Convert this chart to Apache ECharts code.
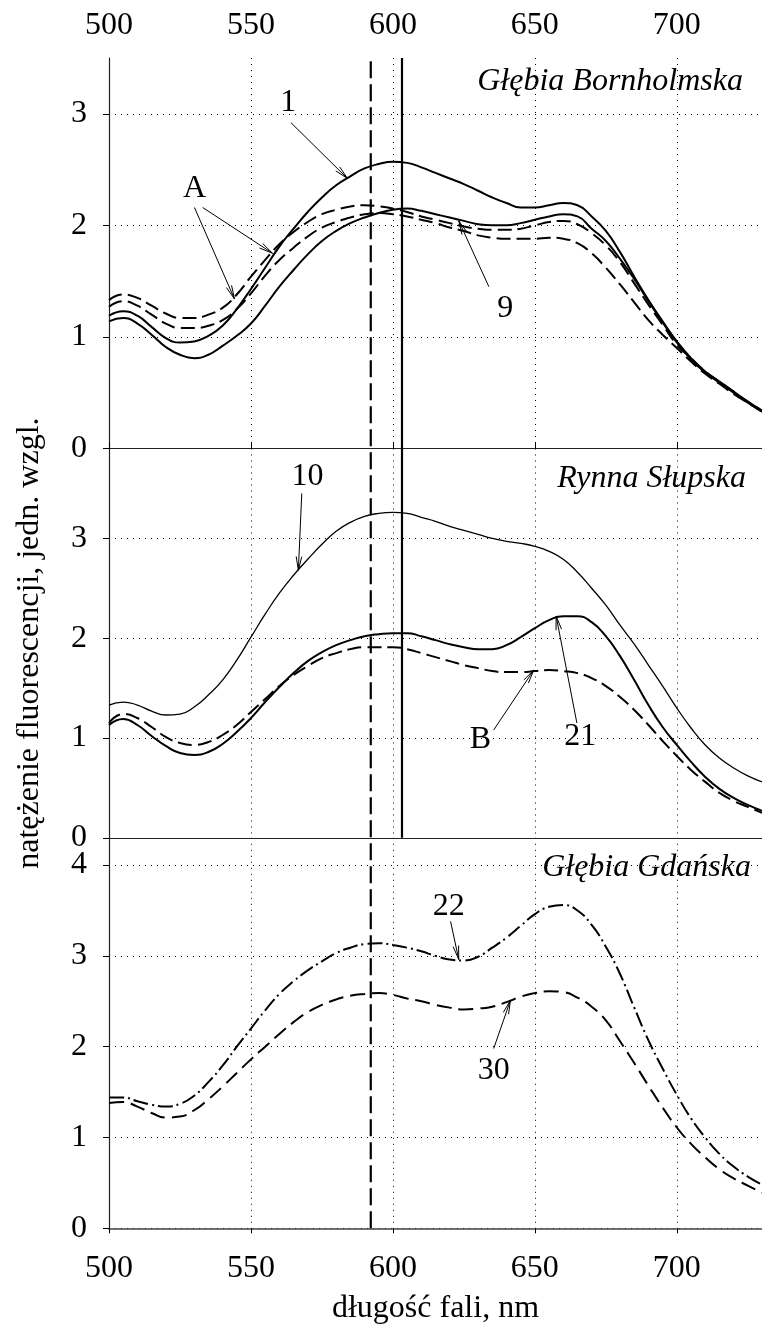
<!DOCTYPE html>
<html>
<head>
<meta charset="utf-8">
<script src="https://cdn.jsdelivr.net/npm/echarts@6/dist/echarts.min.js"></script>
<style>
  html, body { margin: 0; padding: 0; background: #fff; }
  #chart { width: 762px; height: 1331px; }
</style>
</head>
<body>
<div id="chart"></div>
<script>
// Fluorescence spectra at three Baltic stations, relative units vs wavelength (nm)
const wavelengths = [
  500, 505, 510, 515, 520, 525, 530, 535, 540, 545,
  550, 555, 560, 565, 570, 575, 580, 585, 590, 595,
  600, 605, 610, 615, 620, 625, 630, 635, 640, 645,
  650, 655, 660, 665, 670, 675, 680, 685, 690, 695,
  700, 705, 710, 715, 720, 725, 730
];

// Głębia Bornholmska
const bornholm1 = [
  1.19, 1.23, 1.19, 1.09, 0.99, 0.95, 0.96, 1.01, 1.10, 1.25,
  1.43, 1.62, 1.81, 1.97, 2.12, 2.25, 2.36, 2.44, 2.51, 2.55,
  2.57, 2.56, 2.52, 2.47, 2.42, 2.37, 2.31, 2.25, 2.20, 2.16,
  2.16, 2.18, 2.20, 2.18, 2.08, 1.95, 1.76, 1.54, 1.33, 1.14,
  0.96, 0.81, 0.69, 0.60, 0.51, 0.42, 0.34
];
const bornholm9 = [
  1.14, 1.17, 1.12, 1.02, 0.91, 0.84, 0.81, 0.84, 0.92, 1.01,
  1.12, 1.28, 1.45, 1.60, 1.74, 1.86, 1.95, 2.02, 2.07, 2.11,
  2.14, 2.15, 2.13, 2.10, 2.07, 2.04, 2.01, 2.00, 2.00, 2.02,
  2.05, 2.08, 2.10, 2.08, 1.97, 1.86, 1.70, 1.52, 1.32, 1.13,
  0.95, 0.80, 0.68, 0.59, 0.50, 0.41, 0.33
];
const bornholmA1 = [
  1.33, 1.38, 1.35, 1.28, 1.21, 1.17, 1.17, 1.20, 1.26, 1.38,
  1.54, 1.69, 1.83, 1.94, 2.03, 2.10, 2.14, 2.17, 2.18, 2.17,
  2.15, 2.12, 2.08, 2.05, 2.02, 1.99, 1.97, 1.96, 1.96, 1.97,
  2.00, 2.03, 2.04, 2.01, 1.93, 1.82, 1.67, 1.48, 1.29, 1.11,
  0.93, 0.81, 0.69, 0.60, 0.51, 0.42, 0.34
];
const bornholmA2 = [
  1.27, 1.32, 1.28, 1.20, 1.12, 1.08, 1.08, 1.10, 1.15, 1.25,
  1.39, 1.55, 1.69, 1.80, 1.90, 1.98, 2.03, 2.07, 2.10, 2.11,
  2.10, 2.08, 2.05, 2.02, 1.98, 1.95, 1.91, 1.89, 1.88, 1.88,
  1.88, 1.89, 1.88, 1.84, 1.75, 1.62, 1.47, 1.31, 1.15, 1.02,
  0.90, 0.78, 0.67, 0.58, 0.49, 0.41, 0.33
];

// Rynna Słupska
const slupsk10 = [
  1.33, 1.36, 1.33, 1.27, 1.23, 1.24, 1.31, 1.43, 1.58, 1.78,
  2.01, 2.24, 2.45, 2.63, 2.79, 2.94, 3.07, 3.16, 3.22, 3.25,
  3.26, 3.25, 3.21, 3.17, 3.12, 3.08, 3.04, 3.00, 2.97, 2.95,
  2.92, 2.87, 2.79, 2.66, 2.50, 2.33, 2.13, 1.94, 1.73, 1.52,
  1.30, 1.10, 0.93, 0.80, 0.70, 0.62, 0.56
];
const slupsk21 = [
  1.13, 1.19, 1.13, 1.02, 0.92, 0.85, 0.83, 0.86, 0.94, 1.06,
  1.20, 1.36, 1.51, 1.65, 1.77, 1.86, 1.93, 1.98, 2.02, 2.04,
  2.05, 2.05, 2.02, 1.98, 1.94, 1.91, 1.89, 1.89, 1.93, 2.01,
  2.10, 2.18, 2.22, 2.22, 2.16, 2.02, 1.82, 1.58, 1.33, 1.11,
  0.93, 0.76, 0.61, 0.49, 0.40, 0.33, 0.27
];
const slupskB = [
  1.15, 1.24, 1.20, 1.11, 1.01, 0.95, 0.93, 0.96, 1.03, 1.13,
  1.26, 1.39, 1.52, 1.63, 1.72, 1.80, 1.85, 1.89, 1.91, 1.91,
  1.91, 1.89, 1.85, 1.81, 1.77, 1.73, 1.70, 1.67, 1.66, 1.66,
  1.67, 1.68, 1.67, 1.65, 1.60, 1.52, 1.41, 1.28, 1.13, 0.97,
  0.82, 0.68, 0.56, 0.45, 0.37, 0.31, 0.25
];

// Głębia Gdańska
const gdansk22 = [
  1.44, 1.44, 1.40, 1.36, 1.34, 1.37, 1.46, 1.61, 1.79, 2.00,
  2.20, 2.40, 2.58, 2.72, 2.84, 2.94, 3.03, 3.09, 3.13, 3.14,
  3.12, 3.09, 3.05, 3.00, 2.96, 2.95, 2.99, 3.09, 3.20, 3.33,
  3.46, 3.54, 3.56, 3.50, 3.34, 3.10, 2.80, 2.43, 2.07, 1.76,
  1.47, 1.21, 1.00, 0.82, 0.68, 0.57, 0.48
];
const gdansk30 = [
  1.38, 1.39, 1.34, 1.27, 1.22, 1.23, 1.30, 1.42, 1.56, 1.71,
  1.86, 2.00, 2.14, 2.27, 2.38, 2.46, 2.52, 2.56, 2.58, 2.59,
  2.57, 2.53, 2.50, 2.46, 2.43, 2.41, 2.42, 2.44, 2.49, 2.55,
  2.59, 2.61, 2.60, 2.54, 2.44, 2.29, 2.06, 1.82, 1.57, 1.33,
  1.11, 0.93, 0.78, 0.65, 0.55, 0.47, 0.39
];

// Axis ranges and ticks
const xMin = 500, xMax = 730, xStep = 50;
const xTickValues = [500, 550, 600, 650, 700];
const panelMax = [3.5, 3.9, 4.3];
const yTickValues = [[0, 1, 2, 3], [0, 1, 2, 3], [0, 1, 2, 3, 4]];

// Vertical reference wavelengths (nm)
const dashedRefNm = 592.2;
const solidRefNm = 603.1;

// Panel titles
const panelTitles = ['Głębia Bornholmska', 'Rynna Słupska', 'Głębia Gdańska'];

// Curve labels: [text, nm, value] and arrows: [fromNm, fromValue, tipNm, tipValue]
const labelsTop = [['1', 563.1, 3.10], ['A', 530.1, 2.33], ['9', 639.6, 1.25]];
const arrowsTop = [[564.1, 2.92, 584.0, 2.42], [530.1, 2.16, 544.2, 1.34], [533.0, 2.16, 557.6, 1.75], [633.8, 1.45, 623.2, 2.04]];
const labelsMid = [['10', 569.9, 3.62], ['B', 630.8, 0.98], ['21', 666.0, 1.01]];
const arrowsMid = [[567.9, 3.45, 566.7, 2.68], [635.5, 1.08, 649.6, 1.68], [664.8, 1.15, 657.5, 2.22]];
const labelsBot = [['22', 619.7, 3.54], ['30', 635.5, 1.74]];
const arrowsBot = [[620.3, 3.38, 623.2, 2.96], [635.5, 1.98, 641.4, 2.51]];

const FONT = '"Liberation Serif", "Times New Roman", serif';
const FS = 32;

const pairs = vals => wavelengths.map((w, i) => [w, vals[i]]);
const xAxisOf = panel => (panel === 0 ? 0 : panel === 1 ? 2 : 3);

const gridLine = { show: true, lineStyle: { color: '#000', width: 1, type: [1, 5] } };
const axisLineStyle = { show: true, lineStyle: { color: '#222', width: 1.2 } };

function curve(name, vals, panel, style) {
  return {
    name, type: 'line', xAxisIndex: xAxisOf(panel), yAxisIndex: panel,
    data: pairs(vals), showSymbol: false, smooth: 0.5, silent: true,
    lineStyle: Object.assign({ color: '#000', width: 2, type: 'solid' }, style),
    z: 3
  };
}

// Arrow from a label to a curve, with an open V head at the tip
function arrowRender(params, api) {
  const a = api.coord([api.value(0), api.value(1)]);
  const b = api.coord([api.value(2), api.value(3)]);
  const dx = b[0] - a[0], dy = b[1] - a[1];
  const len = Math.hypot(dx, dy) || 1;
  const ux = dx / len, uy = dy / len;
  const L = 14, ang = 0.2;
  const c = Math.cos(ang), s = Math.sin(ang);
  const h1 = [b[0] - L * (ux * c - uy * s), b[1] - L * (uy * c + ux * s)];
  const h2 = [b[0] - L * (ux * c + uy * s), b[1] - L * (uy * c - ux * s)];
  return {
    type: 'group',
    children: [
      { type: 'line', shape: { x1: a[0], y1: a[1], x2: b[0], y2: b[1] }, style: { stroke: '#000', lineWidth: 1 } },
      { type: 'polyline', shape: { points: [h1, b, h2] }, style: { stroke: '#000', lineWidth: 1, fill: null } }
    ]
  };
}

function arrowSeries(arrows, panel) {
  return {
    type: 'custom', xAxisIndex: xAxisOf(panel), yAxisIndex: panel,
    data: arrows, encode: { x: [0, 2], y: [1, 3] }, renderItem: arrowRender, silent: true, z: 5, clip: false
  };
}

function labelSeries(labels, panel) {
  return {
    type: 'custom', xAxisIndex: xAxisOf(panel), yAxisIndex: panel,
    data: labels.map(l => [l[1], l[2]]), encode: { x: 0, y: 1 }, silent: true, z: 5, clip: false,
    renderItem: (params, api) => {
      const p = api.coord([api.value(0), api.value(1)]);
      return {
        type: 'text', x: p[0], y: p[1],
        style: { text: labels[params.dataIndex][0], fill: '#000', font: FS + 'px ' + FONT, align: 'center', verticalAlign: 'middle' }
      };
    }
  };
}

const gridLeft = 109, gridWidth = 655;
const option = {
  animation: false,
  backgroundColor: '#fff',
  title: [
    { text: panelTitles[0], right: 19, top: 66, padding: 0 },
    { text: panelTitles[1], right: 16, top: 463, padding: 0 },
    { text: panelTitles[2], right: 11, top: 852, padding: 0 }
  ].map(t => Object.assign(t, { textStyle: { fontFamily: FONT, fontStyle: 'italic', fontWeight: 'normal', fontSize: FS, lineHeight: 32, color: '#000' } })),
  grid: [
    { left: gridLeft, width: gridWidth, top: 58, height: 390.5 },
    { left: gridLeft, width: gridWidth, top: 448.5, height: 389.3 },
    { left: gridLeft, width: gridWidth, top: 837.8, height: 390.5 },
    { left: gridLeft, width: gridWidth, top: 58, height: 1170.3 }
  ],
  xAxis: [
    { // top scale
      gridIndex: 0, type: 'value', position: 'top', min: xMin, max: xMax, interval: xStep,
      axisLine: axisLineStyle,
      axisTick: { show: true, inside: false, length: 6, lineStyle: { color: '#000' }, customValues: xTickValues },
      axisLabel: { show: true, margin: 16, fontFamily: FONT, fontSize: FS, color: '#000', customValues: xTickValues },
      splitLine: gridLine
    },
    { // separator under the first panel
      gridIndex: 0, type: 'value', position: 'bottom', min: xMin, max: xMax, interval: xStep,
      axisLine: axisLineStyle, axisTick: { show: false }, axisLabel: { show: false }, splitLine: { show: false }
    },
    {
      gridIndex: 1, type: 'value', position: 'bottom', min: xMin, max: xMax, interval: xStep,
      axisLine: axisLineStyle, axisTick: { show: false }, axisLabel: { show: false }, splitLine: gridLine
    },
    { // bottom scale
      gridIndex: 2, type: 'value', position: 'bottom', min: xMin, max: xMax, interval: xStep,
      name: 'długość fali, nm', nameLocation: 'middle', nameGap: 64,
      nameTextStyle: { fontFamily: FONT, fontSize: FS, color: '#000' },
      axisLine: { show: true, lineStyle: { color: '#444', width: 1.6 } },
      axisTick: { show: true, inside: false, length: 5, lineStyle: { color: '#000' }, customValues: xTickValues },
      axisLabel: { show: true, margin: 24, fontFamily: FONT, fontSize: FS, color: '#000', customValues: xTickValues },
      splitLine: gridLine
    },
    { gridIndex: 3, type: 'value', min: xMin, max: xMax, show: false }
  ],
  yAxis: [0, 1, 2].map(i => ({
    gridIndex: i, type: 'value', min: 0, max: panelMax[i], interval: 1,
    axisLine: axisLineStyle,
    axisTick: { show: true, inside: false, length: 6, lineStyle: { color: '#000' }, customValues: yTickValues[i] },
    axisLabel: { show: true, margin: 22, fontFamily: FONT, fontSize: FS, color: '#000', customValues: yTickValues[i] },
    splitLine: gridLine
  })).concat([{ gridIndex: 3, type: 'value', min: 0, max: 1, show: false }]),
  series: [
    // Głębia Bornholmska
    Object.assign(curve('1', bornholm1, 0, {}), {
      markLine: { silent: true, symbol: ['none', 'none'], label: { show: false },
        lineStyle: { color: '#000', width: 2.2, type: 'solid' }, data: [{ xAxis: solidRefNm }] }
    }),
    curve('9', bornholm9, 0, {}),
    curve('A1', bornholmA1, 0, { type: [14, 6] }),
    curve('A2', bornholmA2, 0, { type: [14, 6] }),
    // Rynna Słupska
    Object.assign(curve('10', slupsk10, 1, { width: 1.3 }), {
      markLine: { silent: true, symbol: ['none', 'none'], label: { show: false },
        lineStyle: { color: '#000', width: 2.2, type: 'solid' }, data: [{ xAxis: solidRefNm }] }
    }),
    curve('21', slupsk21, 1, {}),
    curve('B', slupskB, 1, { type: [14, 6] }),
    // Głębia Gdańska
    curve('22', gdansk22, 2, { type: [15, 4, 2, 4] }),
    curve('30', gdansk30, 2, { type: [15, 7] }),
    // dashed reference line across all panels
    {
      type: 'line', xAxisIndex: 4, yAxisIndex: 3, silent: true, showSymbol: false, z: 4,
      data: [[dashedRefNm, 0], [dashedRefNm, 1]],
      lineStyle: { color: '#000', width: 2.2, type: [17, 6] }
    },
    arrowSeries(arrowsTop, 0), labelSeries(labelsTop, 0),
    arrowSeries(arrowsMid, 1), labelSeries(labelsMid, 1),
    arrowSeries(arrowsBot, 2), labelSeries(labelsBot, 2)
  ]
};
// y-axis name on the middle panel, centred on the whole stack
option.yAxis[1].name = 'natężenie fluorescencji, jedn. wzgl.';
option.yAxis[1].nameLocation = 'middle';
option.yAxis[1].nameGap = 63;
option.yAxis[1].nameTextStyle = { fontFamily: FONT, fontSize: FS, color: '#000' };

const chart = echarts.init(document.getElementById('chart'), null, { renderer: 'canvas' });
chart.setOption(option);
</script>
</body>
</html>
